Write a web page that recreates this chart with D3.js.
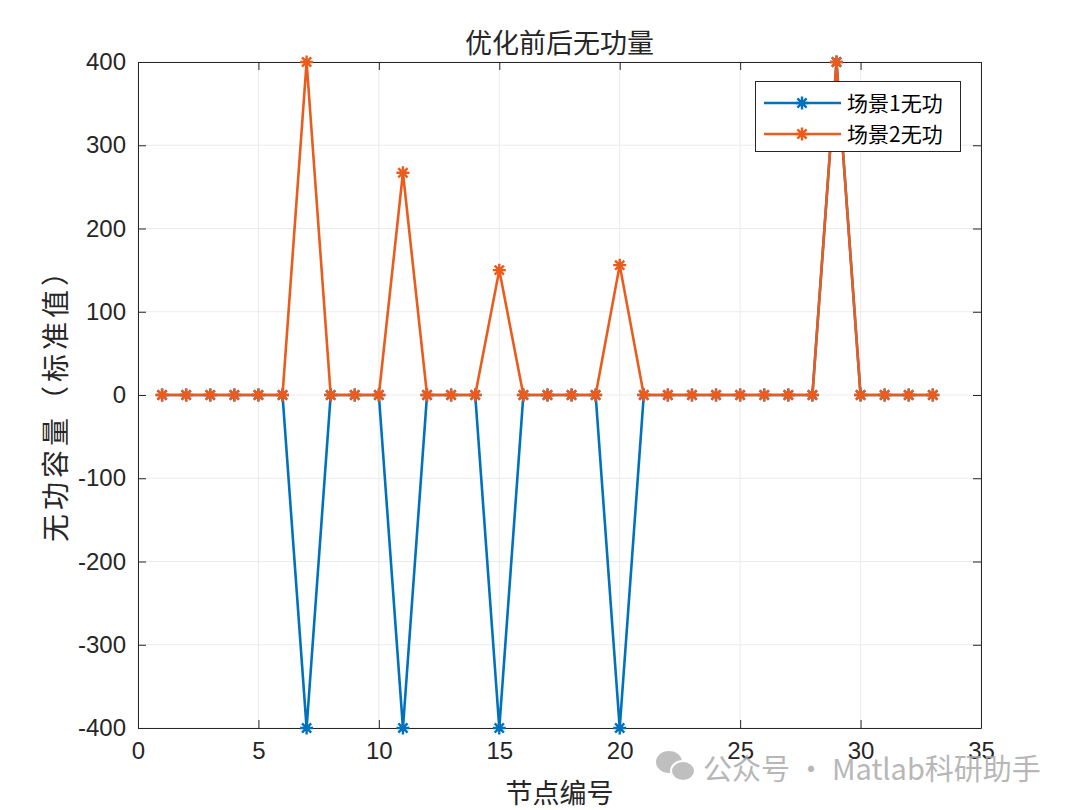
<!DOCTYPE html>
<html><head><meta charset="utf-8">
<script src="https://cdn.jsdelivr.net/npm/d3@7"></script>
<style>body{margin:0;background:#fff}svg{display:block}</style>
</head><body>
<script>
const nodes = d3.range(1, 34);
const scene1 = [0,0,0,0,0,0,-400,0,0,0,-400,0,0,0,-400,0,0,0,0,-400,0,0,0,0,0,0,0,0,400,0,0,0,0];
const scene2 = [0,0,0,0,0,0,400,0,0,0,267,0,0,0,150,0,0,0,0,156,0,0,0,0,0,0,0,0,400,0,0,0,0];
const xTicks = [0,5,10,15,20,25,30,35];
const yTicks = [-400,-300,-200,-100,0,100,200,300,400];
const seriesNames = ["场景1无功","场景2无功"];
const colors = ["#0072BD","#EA5B1C"];
const title = "优化前后无功量";
const xLabel = "节点编号";
const yLabel = "无功容量（标准值）";

const W=1080,H=810, L=138, R=981, T=62, B=728;
const svg = d3.select("body").append("svg").attr("width",W).attr("height",H);
const x = d3.scaleLinear().domain([0,35]).range([L,R]);
const y = d3.scaleLinear().domain([-400,400]).range([B,T]);
const sans = "'Liberation Sans', Arial, sans-serif";
const cjk = "'Noto Sans CJK SC', sans-serif";
const fmt = d => String(d);

// grid
svg.append("g").selectAll("line").data(xTicks).join("line")
  .attr("x1",d=>x(d)).attr("x2",d=>x(d)).attr("y1",T).attr("y2",B)
  .attr("stroke","#ebebeb").attr("stroke-width",1);
svg.append("g").selectAll("line").data(yTicks).join("line")
  .attr("y1",d=>y(d)).attr("y2",d=>y(d)).attr("x1",L).attr("x2",R)
  .attr("stroke","#ebebeb").attr("stroke-width",1);

// axes
const ax = svg.append("g").attr("transform",`translate(0,${B})`)
  .call(d3.axisBottom(x).tickValues(xTicks).tickFormat(fmt).tickSizeInner(-8).tickSizeOuter(0).tickPadding(14));
const axTop = svg.append("g").attr("transform",`translate(0,${T})`)
  .call(d3.axisTop(x).tickValues(xTicks).tickSizeInner(-8).tickSizeOuter(0).tickFormat(""));
const ay = svg.append("g").attr("transform",`translate(${L},0)`)
  .call(d3.axisLeft(y).tickValues(yTicks).tickFormat(fmt).tickSizeInner(-8).tickSizeOuter(0).tickPadding(12));
const ayR = svg.append("g").attr("transform",`translate(${R},0)`)
  .call(d3.axisRight(y).tickValues(yTicks).tickSizeInner(-8).tickSizeOuter(0).tickFormat(""));
[ax,axTop,ay,ayR].forEach(g=>{
  g.select(".domain").attr("stroke","#262626").attr("stroke-width",1);
  g.selectAll(".tick line").attr("stroke","#262626");
  g.selectAll("text").attr("fill","#262626").style("font-family",sans).style("font-size","24px");
});
ax.selectAll("text").attr("dy","0.72em");

// star marker path
function star(cx,cy,r){
  let p="";
  for(let i=0;i<4;i++){const a=i*Math.PI/4;
    p+=`M${cx-r*Math.cos(a)},${cy-r*Math.sin(a)}L${cx+r*Math.cos(a)},${cy+r*Math.sin(a)}`;}
  return p;
}
const line = d3.line().x((d,i)=>x(nodes[i])).y(d=>y(d));
[scene1,scene2].forEach((s,k)=>{
  const g = svg.append("g");
  g.append("path").datum(s).attr("d",line).attr("fill","none")
    .attr("stroke",colors[k]).attr("stroke-width",2.6);
  g.selectAll("path.m").data(s).join("path").attr("class","m")
    .attr("d",(d,i)=>star(x(nodes[i]),y(d),6.5))
    .attr("stroke",colors[k]).attr("stroke-width",2.4).attr("fill","none");
});

// title & labels
svg.append("text").attr("x",(L+R)/2).attr("y",53).attr("text-anchor","middle")
  .style("font-family",cjk).style("font-size","27px").attr("fill","#262626").text(title);
svg.append("text").attr("x",(L+R)/2).attr("y",803).attr("text-anchor","middle")
  .style("font-family",cjk).style("font-size","27px").attr("fill","#262626").text(xLabel);
svg.append("text").attr("transform",`translate(66,${(T+B)/2+3}) rotate(-90)`).attr("text-anchor","middle")
  .style("font-family",cjk).style("font-size","28px").style("letter-spacing","4px").attr("fill","#262626").text(yLabel);

// legend
const lg = svg.append("g");
lg.append("rect").attr("x",755.5).attr("y",81.5).attr("width",205).attr("height",70)
  .attr("fill","#fff").attr("stroke","#262626").attr("stroke-width",1);
seriesNames.forEach((n,k)=>{
  const cy = 103 + k*31;
  lg.append("line").attr("x1",764).attr("x2",841).attr("y1",cy).attr("y2",cy)
    .attr("stroke",colors[k]).attr("stroke-width",2.6);
  lg.append("path").attr("d",star(802,cy,6.5)).attr("stroke",colors[k]).attr("stroke-width",2.4);
  lg.append("text").attr("x",847).attr("y",cy+8).style("font-family",cjk).style("font-size","21px")
    .attr("fill","#000").text(n);
});

// watermark
const wm = svg.append("g").attr("opacity",0.85);
wm.append("ellipse").attr("cx",669).attr("cy",762).attr("rx",13).attr("ry",11).attr("fill","#b5b5b5");
wm.append("ellipse").attr("cx",683).attr("cy",771).attr("rx",12).attr("ry",10).attr("fill","#b5b5b5").attr("stroke","#fff").attr("stroke-width",2);
wm.append("text").attr("x",703).attr("y",780).style("font-family",cjk).style("font-size","29px")
  .attr("fill","#ababab").text("公众号 · Matlab科研助手");
</script>
</body></html>
